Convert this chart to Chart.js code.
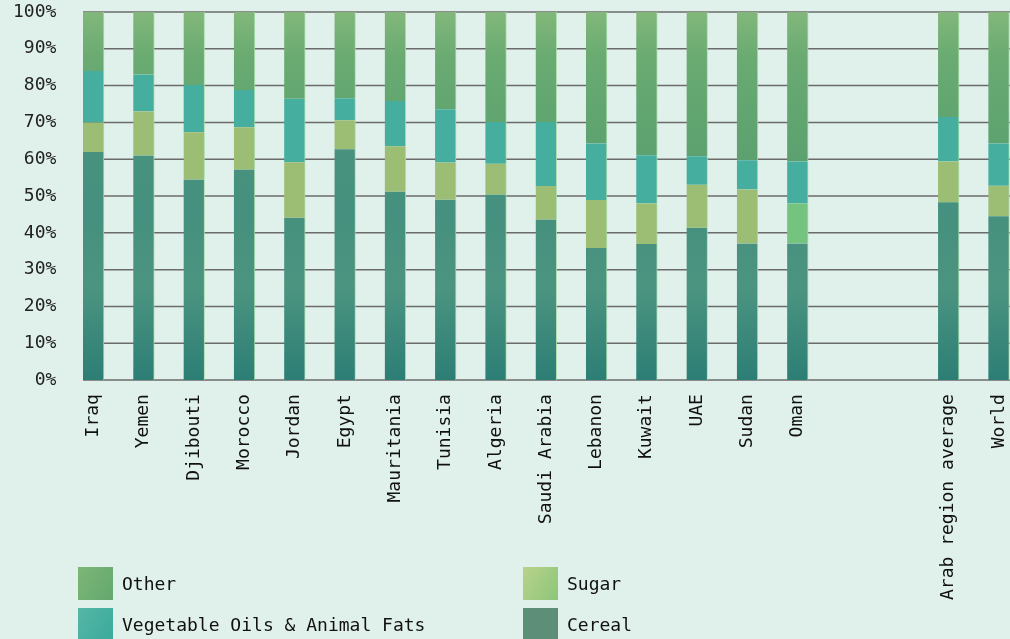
<!DOCTYPE html>
<html>
<head>
<meta charset="utf-8">
<script src="https://cdn.jsdelivr.net/npm/chart.js@4.4.1/dist/chart.umd.min.js"></script>
<style>
    html, body { margin: 0; padding: 0; background: #e0f0ea; overflow: hidden; }
    .wrap { position: relative; width: 1010px; height: 639px; overflow: hidden; }
    #diet-chart { position: absolute; left: 0; top: 0; }
    .legend { position: absolute; left: 78px; top: 567px; width: 900px; }
    .legend-item { position: absolute; display: flex; align-items: center; font-family: 'DejaVu Sans Mono', monospace; font-size: 18px; color: #111; }
    .legend-item .swatch { width: 35px; height: 33px; margin-right: 9px; }
</style>
</head>
<body>
<div class="wrap">
    <canvas id="diet-chart" width="1030" height="639"></canvas>
    <div class="legend" id="legend"></div>
</div>
<script>
// Share of dietary energy by food group (%), two empty slots before the aggregates
const categories = ['Iraq', 'Yemen', 'Djibouti', 'Morocco', 'Jordan', 'Egypt', 'Mauritania', 'Tunisia',
    'Algeria', 'Saudi Arabia', 'Lebanon', 'Kuwait', 'UAE', 'Sudan', 'Oman', '', '', 'Arab region average', 'World'];

const cereal = [62, 61, 54.5, 57.2, 44.1, 62.7, 51.2, 49, 50.4, 43.6, 35.9, 37, 41.4, 37.1, 37.1, null, null, 48.3, 44.5];
const sugar = [8, 12, 12.8, 11.5, 15.1, 7.9, 12.3, 10.1, 8.4, 9.1, 13, 11, 11.7, 14.7, 10.9, null, null, 11.1, 8.3];
const oils = [14, 10, 12.9, 10.1, 17.2, 6, 12.3, 14.5, 11.3, 17.4, 15.4, 13.1, 7.7, 7.9, 11.4, null, null, 12.1, 11.5];
const other = [16, 17, 19.8, 21.2, 23.6, 23.4, 24.2, 26.4, 29.9, 29.9, 35.7, 38.9, 39.2, 40.3, 40.6, null, null, 28.5, 35.7];

const yTicks = [0, 10, 20, 30, 40, 50, 60, 70, 80, 90, 100];

// vertical shading helper, stops are fractions of the plot height from the top
function shade(stops, fallback) {
    return (context) => {
        const { ctx, chartArea } = context.chart;
        if (!chartArea) return fallback;
        const g = ctx.createLinearGradient(0, chartArea.top, 0, chartArea.bottom);
        stops.forEach(([pos, color]) => g.addColorStop(pos, color));
        return g;
    };
}

const seriesStyle = {
    cereal: { label: 'Cereal', swatch: '#5d8f78', color: shade([[0, '#4f9582'], [0.55, '#45907e'], [0.75, '#4b9480'], [1, '#2c7e75']], '#44907e') },
    sugar: { label: 'Sugar', swatch: 'linear-gradient(120deg, #b9d28a, #8cc67a)', color: (c) => categories[c.dataIndex] === 'Oman' ? '#74c37f' : '#9cbd74' },
    oils: { label: 'Vegetable Oils & Animal Fats', swatch: 'linear-gradient(120deg, #56b6a6, #3aaa9c)', color: '#45ae9f' },
    other: { label: 'Other', swatch: 'linear-gradient(120deg, #7db676, #63a86f)', color: shade([[0, '#82b77a'], [0.12, '#6aab72'], [0.3, '#60a470'], [0.45, '#5a9f6f']], '#66a871') }
};

function dataset(key, values) {
    return {
        label: seriesStyle[key].label,
        data: values,
        backgroundColor: seriesStyle[key].color,
        borderColor: 'rgba(168, 220, 172, 0.9)',
        borderWidth: { left: 0, right: 1, top: 0, bottom: 0 },
        borderSkipped: false,
        barThickness: 21
    };
}

// horizontal rules start at the first bar and sit behind the stacks
const gridBehindBars = {
    id: 'gridBehindBars',
    beforeDatasetsDraw(chart) {
        const { ctx, chartArea, scales: { y } } = chart;
        const first = chart.getDatasetMeta(0).data[0];
        const x0 = first.x - first.width / 2;
        ctx.save();
        ctx.strokeStyle = '#6b6b6b';
        ctx.lineWidth = 1.5;
        y.ticks.forEach(t => {
            const py = y.getPixelForValue(t.value);
            ctx.beginPath();
            ctx.moveTo(x0, py);
            ctx.lineTo(chartArea.right, py);
            ctx.stroke();
        });
        ctx.restore();
    }
};

const ctx = document.getElementById('diet-chart').getContext('2d');
new Chart(ctx, {
    type: 'bar',
    data: {
        labels: categories,
        datasets: [
            dataset('cereal', cereal),
            dataset('sugar', sugar),
            dataset('oils', oils),
            dataset('other', other)
        ]
    },
    options: {
        responsive: false,
        animation: false,
        devicePixelRatio: 1,
        layout: { padding: { left: 1, right: 6, top: 12, bottom: 25 } },
        plugins: {
            legend: { display: false },
            tooltip: { enabled: false }
        },
        scales: {
            x: {
                stacked: true,
                offset: true,
                border: { display: false },
                grid: { display: false, drawTicks: false },
                afterFit: (scale) => { scale.paddingLeft = 0; scale.paddingRight = 0; },
                ticks: {
                    autoSkip: false,
                    minRotation: 90,
                    maxRotation: 90,
                    padding: 14,
                    color: '#111',
                    font: { family: 'DejaVu Sans Mono', size: 18 }
                }
            },
            y: {
                stacked: true,
                min: 0,
                max: 100,
                afterBuildTicks: (scale) => { scale.ticks = yTicks.map(v => ({ value: v })); },
                afterFit: (scale) => { scale.paddingTop = 0; scale.paddingBottom = 0; },
                border: { display: false },
                grid: { display: false, drawTicks: false },
                ticks: {
                    padding: 12,
                    color: '#222',
                    font: { family: 'DejaVu Sans Mono', size: 18 },
                    callback: (v) => v + '%'
                }
            }
        }
    },
    plugins: [gridBehindBars]
});

// legend in two columns: Other / Oils on the left, Sugar / Cereal on the right
const legendLayout = [
    ['other', 0, 0], ['sugar', 445, 0],
    ['oils', 0, 41], ['cereal', 445, 41]
];
document.getElementById('legend').innerHTML = legendLayout.map(([key, left, top]) => `
    <div class="legend-item" style="left:${left}px; top:${top}px">
        <span class="swatch" style="background:${seriesStyle[key].swatch}"></span>
        <span>${seriesStyle[key].label}</span>
    </div>
`).join('');
</script>
</body>
</html>
